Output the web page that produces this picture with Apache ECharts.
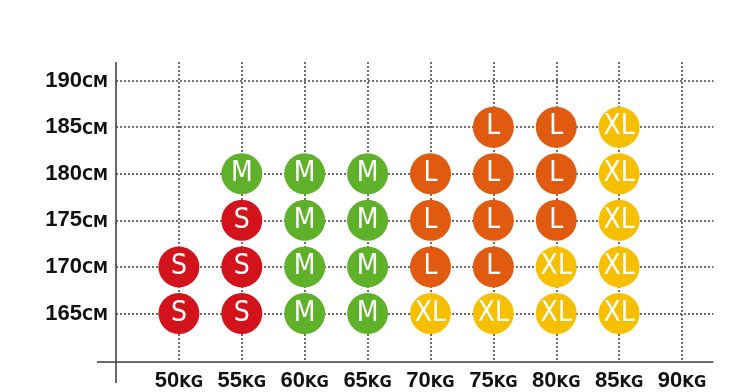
<!DOCTYPE html>
<html>
<head>
<meta charset="utf-8">
<script src="https://cdn.jsdelivr.net/npm/echarts@6/dist/echarts.min.js"></script>
<style>html,body{margin:0;padding:0;background:#fff}#c{width:750px;height:392px}</style>
</head>
<body>
<div id="c"></div>
<script>
const weights = [50, 55, 60, 65, 70, 75, 80, 85, 90];
const heights = [165, 170, 175, 180, 185, 190];
const sizeNames = ['S', 'M', 'L', 'XL'];
const sizeS = [[50,165],[55,165],[50,170],[55,170],[55,175]];
const sizeM = [[60,165],[65,165],[60,170],[65,170],[60,175],[65,175],[55,180],[60,180],[65,180]];
const sizeL = [[70,170],[75,170],[70,175],[75,175],[80,175],[70,180],[75,180],[80,180],[75,185],[80,185]];
const sizeXL = [[70,165],[75,165],[80,165],[85,165],[80,170],[85,170],[85,175],[85,180],[85,185]];
const sizeColors = ['#d3131b', '#5fb12a', '#e05a10', '#f6c000'];

const W = 750, H = 392;
const gA = {left: 116, right: 36.5, top: 62, bottom: 30.5};
const gB = {left: 97, right: 36.5, top: 62, bottom: 9};
const xMin = 45, xMax = 92.5, yMin = 160, yMax = 192;
const xUnit = (W - gA.left - gA.right) / (xMax - xMin);
const yUnit = (H - gA.top - gA.bottom) / (yMax - yMin);
const xMinB = xMax - (W - gB.left - gB.right) / xUnit;
const yMinB = yMax - (H - gB.top - gB.bottom) / yUnit;

const chart = echarts.init(document.getElementById('c'), null, {renderer: 'canvas'});

function mkSeries(name, data, color) {
  return {
    name: name, type: 'scatter', xAxisIndex: 0, yAxisIndex: 0,
    data: data, symbol: 'circle', symbolSize: 41,
    itemStyle: {color: color, opacity: 1},
    label: {
      show: true, position: 'inside', formatter: name,
      color: '#fff', fontSize: 28,
      fontFamily: "'Liberation Sans Narrow', 'DejaVu Sans Condensed', 'Liberation Sans', sans-serif",
      fontWeight: 'normal'
    },
    emphasis: {disabled: true}, silent: true, z: 5
  };
}
const unitFont = "'DejaVu Sans', sans-serif";
const numFont = "'Liberation Sans', Arial, sans-serif";
const splitStyle = {show: true, showMinLine: false, showMaxLine: false,
  lineStyle: {color: '#6e6e6e', width: 2, type: [2, 2]}};
const richLbl = {
  n: {fontSize: 22, lineHeight: 22, fontWeight: 'bold', fontFamily: numFont, color: '#111', verticalAlign: 'bottom'},
  u: {fontSize: 15, lineHeight: 15, fontWeight: 'bold', fontFamily: unitFont, color: '#111', verticalAlign: 'bottom', padding: [0, 0, 1, 0]}
};

const option = {
  animation: false,
  backgroundColor: '#fff',
  grid: [
    {left: gA.left, right: gA.right, top: gA.top, bottom: gA.bottom, containLabel: false},
    {left: gB.left, right: gB.right, top: gB.top, bottom: gB.bottom, containLabel: false}
  ],
  xAxis: [
    {type: 'value', gridIndex: 0, min: xMin, max: xMax, interval: 5,
     axisLine: {show: false}, axisTick: {show: false}, splitLine: splitStyle,
     axisLabel: {margin: 10, showMaxLabel: false, showMinLabel: false,
       formatter: v => weights.indexOf(v) >= 0 ? '{n|' + v + '}{u|KG}' : '',
       rich: richLbl}},
    {type: 'value', gridIndex: 1, min: xMinB, max: xMax, show: false}
  ],
  yAxis: [
    {type: 'value', gridIndex: 0, min: yMin, max: yMax, interval: 5,
     axisLine: {show: false}, axisTick: {show: false}, splitLine: splitStyle,
     axisLabel: {margin: 8, showMaxLabel: false, showMinLabel: false,
       formatter: v => heights.indexOf(v) >= 0 ? '{n|' + v + '}{u|CM}' : '',
       rich: richLbl}},
    {type: 'value', gridIndex: 1, min: yMinB, max: yMax, show: false}
  ],
  series: [
    mkSeries(sizeNames[0], sizeS, sizeColors[0]),
    mkSeries(sizeNames[1], sizeM, sizeColors[1]),
    mkSeries(sizeNames[2], sizeL, sizeColors[2]),
    mkSeries(sizeNames[3], sizeXL, sizeColors[3]),
    {type: 'scatter', xAxisIndex: 1, yAxisIndex: 1, data: [], silent: true,
     markLine: {silent: true, symbol: ['none', 'none'], animation: false,
       label: {show: false},
       lineStyle: {color: '#3a3a3a', width: 1.5, type: 'solid'},
       emphasis: {disabled: true},
       data: [{xAxis: xMin}, {yAxis: yMin}]}}
  ]
};
chart.setOption(option);
</script>
</body>
</html>
